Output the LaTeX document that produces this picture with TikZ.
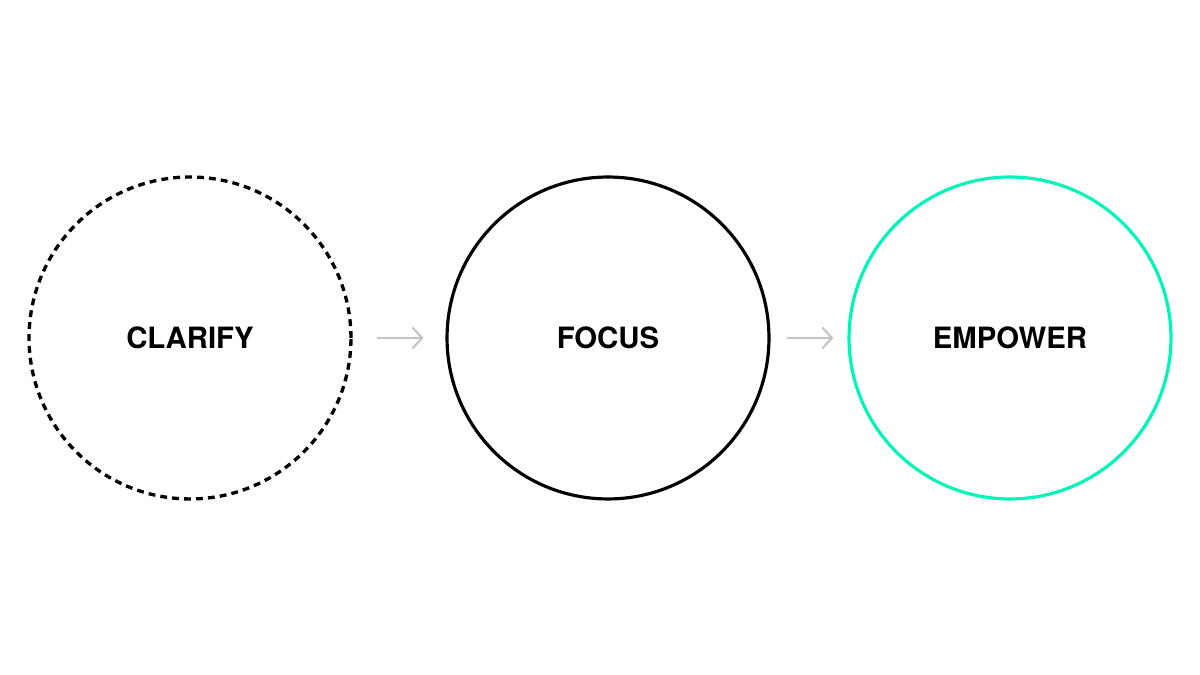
\documentclass[tikz,border=0pt]{standalone}
\usepackage{fontspec}
\setmainfont{TeX Gyre Heros}
\usetikzlibrary{arrows.meta}
\definecolor{mint}{HTML}{00F5B8}
\definecolor{arrowgrey}{HTML}{C4C4C4}
\tikzset{
  stage/.style={circle,draw,line width=1.8pt,minimum size=6.44cm,inner sep=0pt,
    font=\fontsize{16.7}{20}\selectfont\bfseries},
  flow/.style={draw=arrowgrey,line width=1.2pt,-{Straight Barb[length=5.5pt,width=12pt]}}
}
\begin{document}
\begin{tikzpicture}[x=0.02cm,y=0.02cm]
\useasboundingbox (0,0) rectangle (1200,675);
\node[stage,line width=1.9pt,dash pattern=on 3.9pt off 2.9pt] (clarify) at (190,337) {CLARIFY};
\node[stage] (focus) at (608,337) {FOCUS};
\node[stage,draw=mint] (empower) at (1010,337) {EMPOWER};
% arrows between the stages
\draw[flow,shorten <=14pt,shorten >=12.5pt] (clarify) -- (focus);
\draw[flow,shorten <=9.6pt,shorten >=8pt] (focus) -- (empower);
\end{tikzpicture}
\end{document}
